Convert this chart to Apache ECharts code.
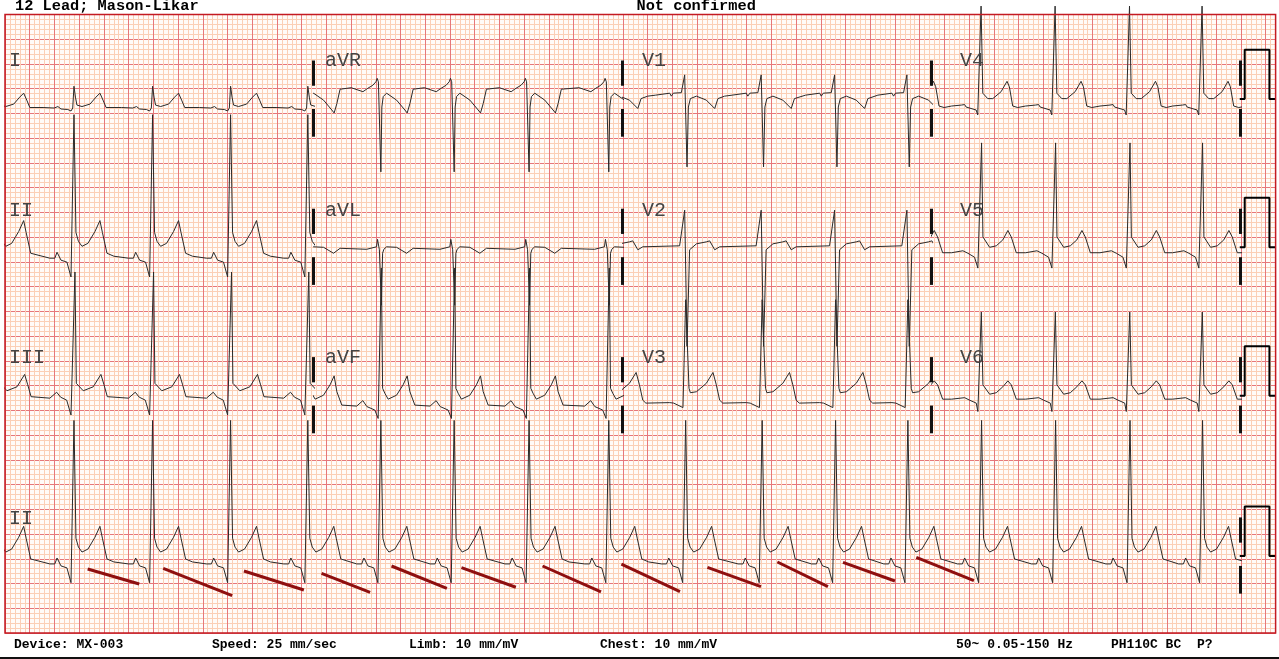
<!DOCTYPE html>
<html><head><meta charset="utf-8">
<script src="https://cdn.jsdelivr.net/npm/echarts@6/dist/echarts.min.js"></script>
<style>html,body{margin:0;padding:0;background:#fff;overflow:hidden;}#c{width:1279px;height:659px;}</style>
</head><body><div id="c"></div>
<script>
// ================= DATA =================
// R-wave times (s) of every beat, common to all simultaneous leads
const beatTimes = [-0.059, 0.558, 1.194, 1.825, 2.450, 3.041, 3.634, 4.240, 4.885, 5.507, 6.126, 6.720, 7.305, 7.901, 8.500, 9.102, 9.689, 10.29];

// Beat templates per lead: [ms from R, mV relative to calibration baseline]
const leadI   = [[-320,-0.17],[-250,-0.17],[-160,-0.18],[-130,-0.15],[-105,-0.20],[-50,-0.21],[-24,-0.24],[-10,-0.18],[0,0.26],[12,0.04],[24,-0.12],[40,-0.14],[65,-0.15],[130,-0.10],[178,0.04],[210,0.12],[235,-0.02],[260,-0.17],[340,-0.18]];
const leadII  = [[-320,-0.20],[-195,-0.22],[-155,-0.22],[-137,-0.10],[-105,-0.26],[-57,-0.30],[-24,-0.60],[0,2.68],[16,0.30],[36,0.12],[65,0.02],[113,0.08],[170,0.32],[210,0.54],[230,0.30],[267,-0.12],[323,-0.18],[340,-0.20]];
const leadIII = [[-320,-0.05],[-195,-0.05],[-140,0.07],[-108,-0.03],[-59,-0.09],[-24,-0.39],[8,2.50],[19,0.25],[35,0.22],[75,0.10],[156,0.18],[218,0.43],[243,0.22],[270,-0.02],[340,-0.04]];
const leadAVR = [[-320,0.23],[-240,0.23],[-145,0.15],[-105,0.22],[-65,0.28],[-40,0.35],[-30,0.42],[-20,0.35],[0,-1.47],[8,-0.16],[19,0.05],[46,0.12],[127,-0.02],[194,-0.22],[213,-0.28],[235,-0.09],[261,0.20],[340,0.23]];
const leadAVL = [[-320,0.0],[-115,-0.04],[-35,0.01],[-27,0.16],[-12,-0.05],[4,-1.17],[14,-0.12],[24,-0.04],[46,0.01],[127,0.0],[208,-0.12],[261,-0.02],[340,0.0]];
const leadAVF = [[-320,-0.21],[-195,-0.21],[-146,-0.10],[-113,-0.22],[-49,-0.29],[-22,-0.46],[4,2.58],[14,0.15],[32,0.05],[59,-0.07],[127,0.01],[180,0.22],[213,0.40],[235,0.08],[275,-0.19],[340,-0.22]];
const leadV1  = [[-320,0.08],[-243,0.08],[-129,0.12],[-116,0.06],[-100,0.12],[-35,0.13],[-8,0.49],[11,-1.37],[22,-0.16],[38,0.01],[87,0.06],[167,-0.02],[235,-0.19],[261,0.01],[315,0.06],[340,0.08]];
const leadV2  = [[-320,0.01],[-49,0.03],[-8,0.75],[11,-2.0],[32,-0.05],[87,0.07],[167,0.11],[194,0.13],[235,-0.05],[275,0.01],[340,0.01]];
const leadV3  = [[-320,-0.15],[-129,-0.14],[-113,-0.11],[-97,-0.15],[-22,-0.24],[0,1.94],[27,0.15],[38,0.06],[87,0.08],[167,0.25],[221,0.47],[248,0.22],[275,-0.09],[300,-0.15],[340,-0.15]];
const leadV4  = [[-320,-0.15],[-243,-0.14],[-162,-0.12],[-137,-0.11],[-125,-0.16],[-44,-0.22],[-31,-0.32],[-4,1.88],[10,0.12],[23,0.15],[50,0.01],[91,0.01],[158,0.15],[206,0.36],[225,0.25],[252,-0.14],[293,-0.17],[340,-0.16]];
const leadV5  = [[-320,-0.12],[-243,-0.11],[-151,-0.07],[-111,-0.12],[-57,-0.20],[-30,-0.42],[0,2.11],[11,0.21],[24,0.18],[65,0.0],[119,0.03],[172,0.15],[213,0.34],[240,0.21],[281,-0.11],[340,-0.12]];
const leadV6  = [[-320,-0.08],[-243,-0.07],[-137,-0.04],[-97,-0.09],[-43,-0.15],[-30,-0.32],[-2,1.69],[11,0.22],[24,0.18],[65,0.03],[119,0.06],[172,0.18],[213,0.30],[240,0.22],[281,-0.07],[340,-0.09]];

// Lead arrangement (rows x 2.5 s columns) and rhythm strip lead
const leadRows = [['I','aVR','V1','V4'], ['II','aVL','V2','V5'], ['III','aVF','V3','V6']];
const rhythmLead = 'II';

// Annotation segments on rhythm strip: [t0 s, mV0, t1 s, mV1] (mV rel. strip baseline)
const stSlopes = [
  [0.669,-0.263,1.086,-0.566],[1.280,-0.248,1.838,-0.802],[1.933,-0.303,2.418,-0.687],
  [2.561,-0.349,2.954,-0.733],[3.127,-0.202,3.575,-0.653],[3.693,-0.236,4.133,-0.632],
  [4.349,-0.202,4.822,-0.727],[4.987,-0.162,5.461,-0.721],[5.683,-0.228,6.116,-0.620],
  [6.249,-0.121,6.658,-0.620],[6.780,-0.127,7.200,-0.505],[7.373,-0.026,7.839,-0.499]
];

// Calibration pulse
const calibMv = 1.0;
const calibSec = 0.2;

// Texts
const headerLeft = '12 Lead; Mason-Likar';
const headerCenter = 'Not confirmed';
const footerTexts = ['Device: MX-003','Speed: 25 mm/sec','Limb: 10 mm/mV','Chest: 10 mm/mV','50~ 0.05-150 Hz','PH110C BC','P?'];

// ================= LAYOUT / STYLE =================
const W = 1279, H = 659;
const PX_S = 123.6, PX_MV = 49.48;
const paperL = 5, paperT = 14.5, paperB = 633;
const paperSec = 10.28;               // paper width in seconds (257 small boxes)
const paperR = paperL + paperSec * PX_S;
const yMax = paperB / PX_MV, yMin = -(H - paperB) / PX_MV;
const rowBase = [10.79, 7.795, 4.796, 1.556];
const rhythmOffset = 0.06;
const segSec = 2.5;
const labelX = [9, 325, 642, 960];
const labelY = [61, 210.5, 358, 518.5];
const footerX = [14, 212, 409, 600, 956, 1111, 1197];
const markerParts = [[0.27, 0.78], [-0.2, -0.76]];
const COL = { bg:'#fffbf8', minor:'#fbcfb6', major:'#e6777a', border:'#c41a22', trace:'#2a2a2a', st:'#8e0f0f' };

const templates = { I:leadI, II:leadII, III:leadIII, aVR:leadAVR, aVL:leadAVL, aVF:leadAVF, V1:leadV1, V2:leadV2, V3:leadV3, V4:leadV4, V5:leadV5, V6:leadV6 };

function buildTrace(tpl, base) {
  const pts = [];
  const n = beatTimes.length;
  for (let i = 0; i < n; i++) {
    const T = beatTimes[i];
    const lo = i > 0 ? T - 0.48 * (T - beatTimes[i-1]) : -Infinity;
    const hi = i < n - 1 ? T + 0.52 * (beatTimes[i+1] - T) : Infinity;
    for (const [ms, mv] of tpl) {
      const t = T + ms / 1000;
      if (t >= lo && t < hi) pts.push([t, base + mv]);
    }
  }
  return pts;
}

const grids = [], xAxes = [], yAxes = [], series = [];
// grid 0: paper
grids.push({ left: paperL, top: paperT, width: paperSec * PX_S, height: paperB - paperT, show: true, backgroundColor: COL.bg, borderWidth: 0 });
const gridAxisBase = (idx, min, max, interval, color) => ({
  gridIndex: idx, type: 'value', min, max, interval,
  axisLine: { show: false }, axisTick: { show: false }, axisLabel: { show: false },
  splitLine: { show: true, lineStyle: { color, width: 1 } }
});
xAxes.push(gridAxisBase(0, 0, paperSec, 0.04, COL.minor));  // xAxis 0: small boxes
yAxes.push(gridAxisBase(0, 0, 12.5, 0.1, COL.minor));       // yAxis 0: small boxes
xAxes.push(gridAxisBase(0, 0, paperSec, 0.2, COL.major));   // xAxis 1: large boxes
yAxes.push(gridAxisBase(0, 0, 12.5, 0.5, COL.major));       // yAxis 1: large boxes
// segment grids 1..4 -> axes 2..5
for (let k = 0; k < 4; k++) {
  grids.push({ left: paperL + k * segSec * PX_S, top: 0, width: segSec * PX_S, height: H });
  xAxes.push({ gridIndex: k + 1, type: 'value', min: k * segSec, max: (k + 1) * segSec, show: false });
  yAxes.push({ gridIndex: k + 1, type: 'value', min: yMin, max: yMax, show: false });
}
// rhythm grid 5 -> axes 6
grids.push({ left: paperL, top: 0, width: 4 * segSec * PX_S, height: H });
xAxes.push({ gridIndex: 5, type: 'value', min: 0, max: 4 * segSec, show: false });
yAxes.push({ gridIndex: 5, type: 'value', min: yMin, max: yMax, show: false });
// overlay grid 6 -> axes 7
grids.push({ left: paperL, top: 0, width: paperSec * PX_S, height: H });
xAxes.push({ gridIndex: 6, type: 'value', min: 0, max: paperSec, show: false });
yAxes.push({ gridIndex: 6, type: 'value', min: yMin, max: yMax, show: false });

// empty series keeping the paper axes alive
series.push({ type: 'line', xAxisIndex: 0, yAxisIndex: 0, data: [], silent: true });
series.push({ type: 'line', xAxisIndex: 1, yAxisIndex: 1, data: [], silent: true });

const traceStyle = { color: COL.trace, width: 1 };
leadRows.forEach((row, r) => {
  row.forEach((lead, k) => {
    series.push({ type: 'line', name: lead, xAxisIndex: k + 2, yAxisIndex: k + 2, data: buildTrace(templates[lead], rowBase[r]),
      showSymbol: false, symbol: 'none', clip: true, lineStyle: traceStyle, silent: true, z: 3 });
  });
});
series.push({ type: 'line', name: 'rhythm', xAxisIndex: 6, yAxisIndex: 6, data: buildTrace(templates[rhythmLead], rowBase[3] + rhythmOffset),
  showSymbol: false, symbol: 'none', clip: true, lineStyle: traceStyle, silent: true, z: 3 });

// ST slope annotations
series.push({ type: 'lines', coordinateSystem: 'cartesian2d', xAxisIndex: 6, yAxisIndex: 6, silent: true, z: 4,
  lineStyle: { color: COL.st, width: 3, opacity: 1 },
  data: stSlopes.map(s => ({ coords: [[s[0], rowBase[3] + s[1]], [s[2], rowBase[3] + s[3]]] })) });

// Lead-change markers
const markers = [];
for (let r = 0; r < 4; r++) {
  const times = r < 3 ? [2.495, 4.995, 7.495, 9.99] : [9.99];
  times.forEach(t => markerParts.forEach(p => markers.push({ coords: [[t, rowBase[r] + p[0]], [t, rowBase[r] + p[1]]] })));
}
series.push({ type: 'lines', coordinateSystem: 'cartesian2d', xAxisIndex: 7, yAxisIndex: 7, silent: true, z: 5,
  lineStyle: { color: '#111', width: 3, opacity: 1 }, data: markers });

// Calibration pulses
for (let r = 0; r < 4; r++) {
  const b = rowBase[r], t0 = 9.99, t1 = 10.03;
  series.push({ type: 'line', xAxisIndex: 7, yAxisIndex: 7, silent: true, showSymbol: false, symbol: 'none', z: 5,
    lineStyle: { color: '#000', width: 2 },
    data: [[t0, b], [t1, b], [t1, b + calibMv], [t1 + calibSec, b + calibMv], [t1 + calibSec, b], [paperSec, b]] });
}

// Graphic: border, bottom strip, texts
const graphic = [
  { type: 'rect', z: 51, shape: { x: paperL, y: paperT, width: paperR - paperL, height: paperB - paperT }, style: { fill: 'none', stroke: COL.border, lineWidth: 1.5 } },
  { type: 'rect', z: 51, shape: { x: 0, y: 657, width: W, height: 2 }, style: { fill: '#111' } },
  { type: 'text', z: 52, x: 15, y: 6, style: { text: headerLeft, font: 'bold 15.3px "Liberation Mono", monospace', fill: '#000', textVerticalAlign: 'middle' } },
  { type: 'text', z: 52, x: 636.5, y: 6, style: { text: headerCenter, font: 'bold 15.3px "Liberation Mono", monospace', fill: '#000', textVerticalAlign: 'middle' } }
];
footerTexts.forEach((t, i) => graphic.push({ type: 'text', z: 52, x: footerX[i], y: 644.5,
  style: { text: t, font: 'bold 13px "Liberation Mono", monospace', fill: '#000', textVerticalAlign: 'middle' } }));
leadRows.forEach((row, r) => row.forEach((lead, k) => graphic.push({ type: 'text', z: 52, x: labelX[k], y: labelY[r],
  style: { text: lead, font: '20px "Liberation Mono", monospace', fill: '#444', textVerticalAlign: 'middle' } })));
graphic.push({ type: 'text', z: 52, x: labelX[0], y: labelY[3],
  style: { text: rhythmLead, font: '20px "Liberation Mono", monospace', fill: '#444', textVerticalAlign: 'middle' } });

const chart = echarts.init(document.getElementById('c'), null, { renderer: 'canvas', width: W, height: H });
chart.setOption({ animation: false, backgroundColor: '#fff', grid: grids, xAxis: xAxes, yAxis: yAxes, series, graphic });
</script></body></html>
